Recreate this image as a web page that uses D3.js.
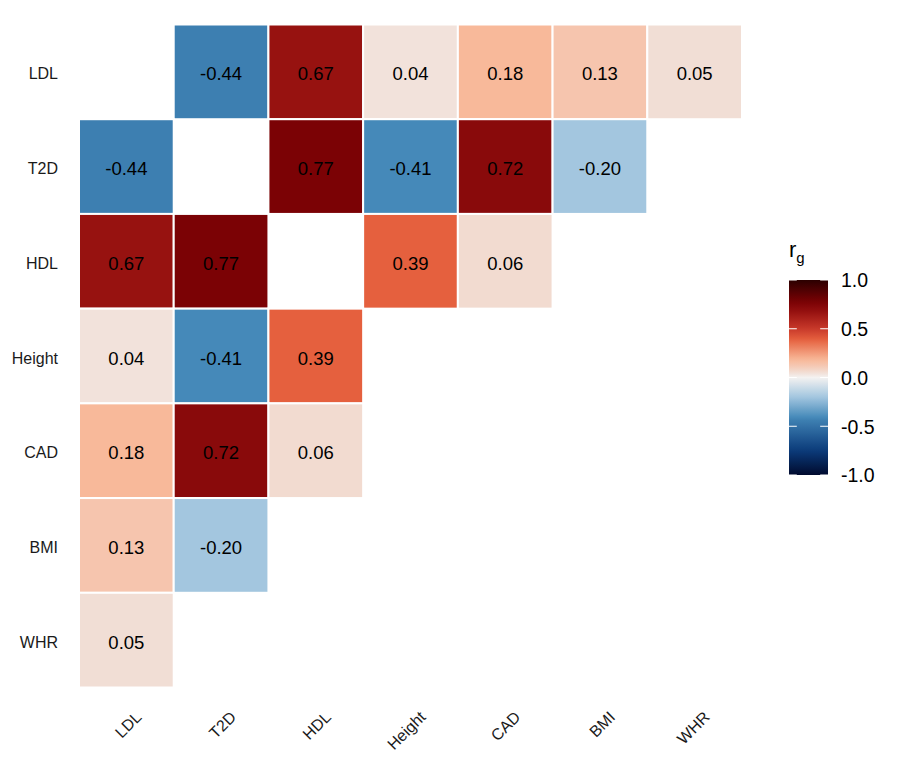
<!DOCTYPE html>
<html>
<head>
<meta charset="utf-8">
<script src="https://cdn.jsdelivr.net/npm/d3@7"></script>
<style>
  body { margin: 0; background: #fff; }
  svg { font-family: "Liberation Sans", Arial, Helvetica, sans-serif; }
</style>
</head>
<body>
<script>
// traits, same order on both axes
var traits = ["LDL", "T2D", "HDL", "Height", "CAD", "BMI", "WHR"];

// genetic correlations per row (null = empty cell)
var rgLDL    = [null, -0.44, 0.67, 0.04, 0.18, 0.13, 0.05];
var rgT2D    = [-0.44, null, 0.77, -0.41, 0.72, -0.20, null];
var rgHDL    = [0.67, 0.77, null, 0.39, 0.06, null, null];
var rgHeight = [0.04, -0.41, 0.39, null, null, null, null];
var rgCAD    = [0.18, 0.72, 0.06, null, null, null, null];
var rgBMI    = [0.13, -0.20, null, null, null, null, null];
var rgWHR    = [0.05, null, null, null, null, null, null];

// legend breaks
var legendTicks = [1.0, 0.5, 0.0, -0.5, -1.0];

// colour ramp
var rampValues = [-1, -0.75, -0.44, -0.41, -0.2, 0, 0.05, 0.13, 0.18, 0.39, 0.5, 0.67, 0.77, 1];
var rampColors = ["#000a2e", "#0b3b7a", "#3d7fb1", "#4589b9", "#a3c6df", "#f4f2f1", "#f1ded5",
                  "#f6c5ae", "#f8b99a", "#e5603e", "#c8392a", "#971210", "#7b0205", "#2b0000"];

var rows = [rgLDL, rgT2D, rgHDL, rgHeight, rgCAD, rgBMI, rgWHR];
var cells = [];
rows.forEach(function(vals, i) {
  vals.forEach(function(v, j) {
    if (v !== null) cells.push({row: traits[i], col: traits[j], value: v});
  });
});

var w = 900, h = 772;
var svg = d3.select("body").append("svg")
  .attr("width", w)
  .attr("height", h);

var x = d3.scaleBand().domain(traits).range([79, 742]);
var y = d3.scaleBand().domain(traits).range([24.5, 687.5]);
var color = d3.scaleLinear().domain(rampValues).range(rampColors).clamp(true);

// tiles
svg.selectAll(".tile")
  .data(cells)
  .enter()
  .append("rect")
  .attr("class", "tile")
  .attr("x", function(d) { return x(d.col); })
  .attr("y", function(d) { return y(d.row); })
  .attr("width", x.bandwidth())
  .attr("height", y.bandwidth())
  .style("fill", function(d) { return color(d.value); })
  .style("stroke", "#fff")
  .style("stroke-width", 2);

// values
svg.selectAll(".val")
  .data(cells)
  .enter()
  .append("text")
  .attr("class", "val")
  .attr("x", function(d) { return x(d.col) + x.bandwidth() / 2; })
  .attr("y", function(d) { return y(d.row) + y.bandwidth() / 2; })
  .attr("dy", "0.46em")
  .attr("text-anchor", "middle")
  .style("font-size", "18.5px")
  .style("fill", "#000")
  .text(function(d) { return d.value.toFixed(2); });

// y axis labels
svg.selectAll(".ylab")
  .data(traits)
  .enter()
  .append("text")
  .attr("class", "ylab")
  .attr("x", 58)
  .attr("y", function(d) { return y(d) + y.bandwidth() / 2; })
  .attr("dy", "0.47em")
  .attr("text-anchor", "end")
  .style("font-size", "16px")
  .style("fill", "#1a1a1a")
  .text(function(d) { return d; });

// x axis labels, rotated
svg.selectAll(".xlab")
  .data(traits)
  .enter()
  .append("text")
  .attr("class", "xlab")
  .attr("transform", function(d) {
    return "translate(" + (x(d) + x.bandwidth() / 2 + 8) + ",710) rotate(-45)";
  })
  .attr("dy", "0.72em")
  .attr("text-anchor", "end")
  .style("font-size", "16px")
  .style("fill", "#1a1a1a")
  .text(function(d) { return d; });

// legend
var ly = d3.scaleLinear().domain([-1, 1]).range([475, 280]);
var lx = 789, lw = 39;

var grad = svg.append("defs").append("linearGradient")
  .attr("id", "rg-grad")
  .attr("x1", 0).attr("y1", 1).attr("x2", 0).attr("y2", 0);
d3.range(0, 1.0001, 0.02).forEach(function(t) {
  grad.append("stop")
    .attr("offset", t)
    .attr("stop-color", color(-1 + 2 * t));
});

svg.append("rect")
  .attr("x", lx)
  .attr("y", ly(1))
  .attr("width", lw)
  .attr("height", ly(-1) - ly(1))
  .style("fill", "url(#rg-grad)");

var tickLen = lw / 5;
legendTicks.forEach(function(t) {
  svg.append("line")
    .attr("x1", lx).attr("x2", lx + tickLen)
    .attr("y1", ly(t)).attr("y2", ly(t))
    .style("stroke", "#fff").style("stroke-width", 1);
  svg.append("line")
    .attr("x1", lx + lw - tickLen).attr("x2", lx + lw)
    .attr("y1", ly(t)).attr("y2", ly(t))
    .style("stroke", "#fff").style("stroke-width", 1);
});

svg.selectAll(".leglab")
  .data(legendTicks)
  .enter()
  .append("text")
  .attr("class", "leglab")
  .attr("x", 841)
  .attr("y", function(d) { return ly(d); })
  .attr("dy", "0.38em")
  .style("font-size", "19.5px")
  .style("fill", "#000")
  .text(function(d) { return d3.format(".1f")(d).replace("\u2212", "-"); });

// legend title r_g
var title = svg.append("text")
  .attr("x", lx)
  .attr("y", 257)
  .style("font-size", "22px")
  .style("fill", "#000");
title.append("tspan").text("r");
title.append("tspan")
  .attr("dy", 6)
  .style("font-size", "15px")
  .text("g");
</script>
</body>
</html>
